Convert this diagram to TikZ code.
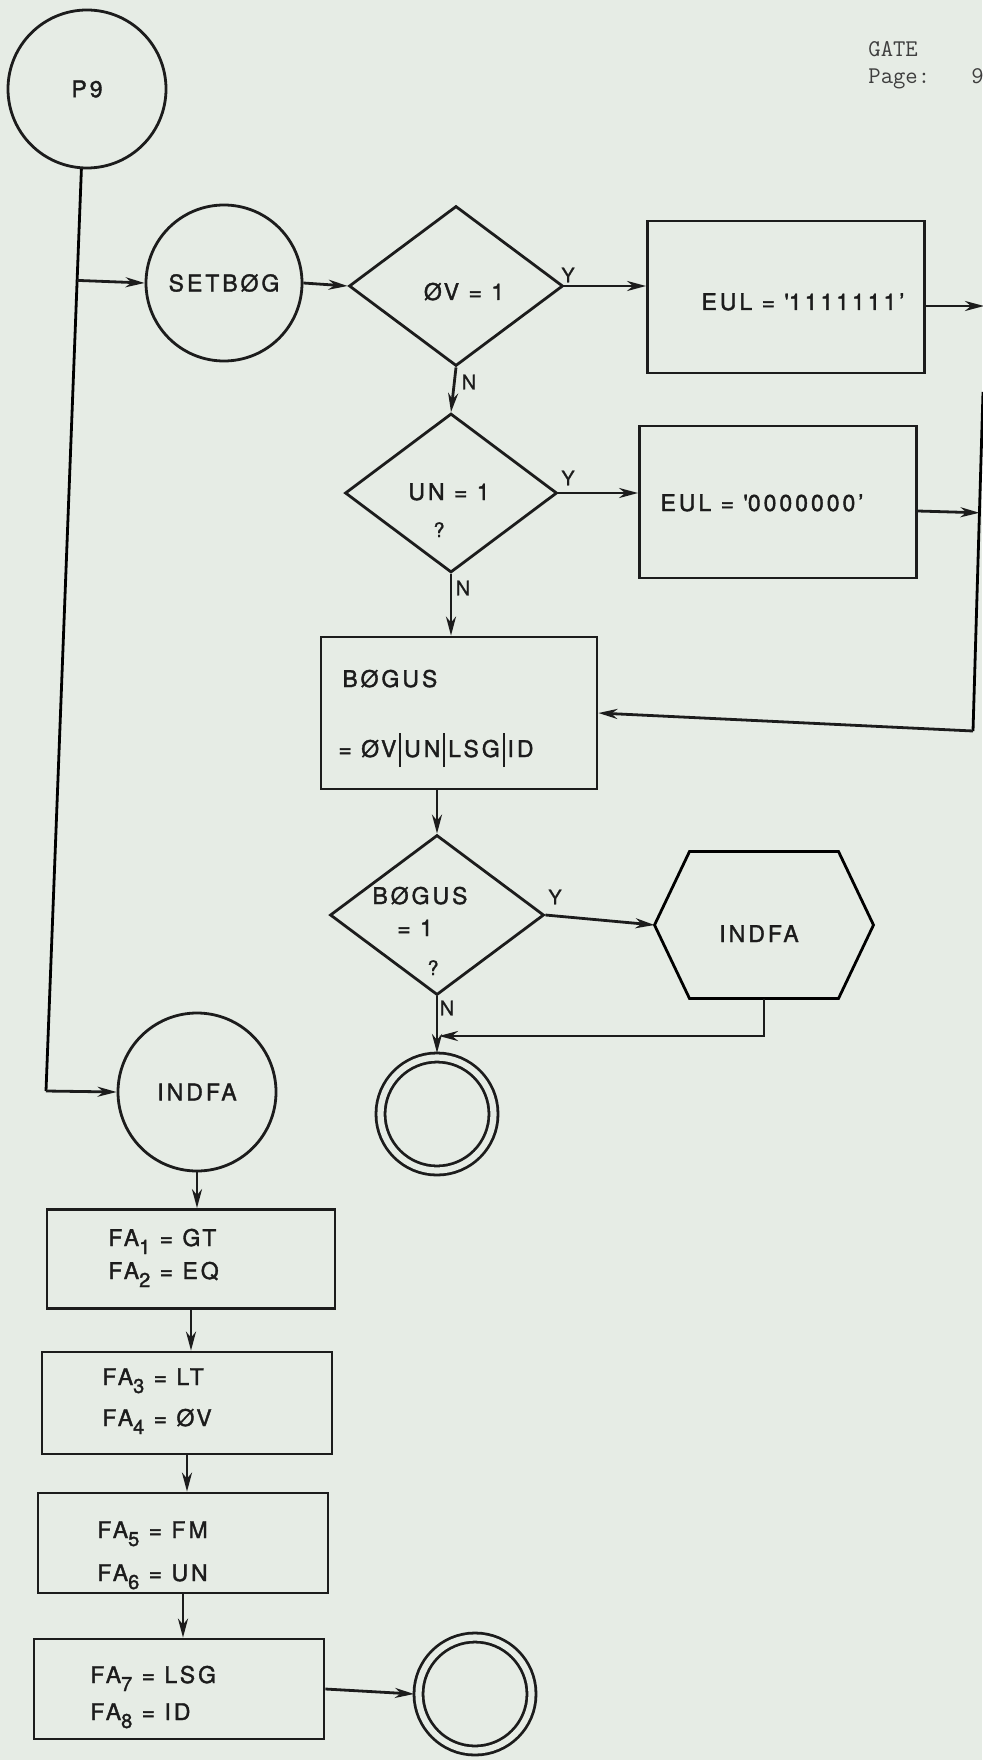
\documentclass[tikz,border=0pt]{standalone}
\usepackage{fontspec}
\setmainfont{TeX Gyre Heros}
\newfontfamily\lblfont[LetterSpace=13,FakeBold=1.6]{TeX Gyre Heros}
\newfontfamily\ynfont[FakeBold=1.0]{TeX Gyre Heros}
\usetikzlibrary{shapes.geometric,arrows.meta,calc}
\definecolor{bg}{RGB}{230,236,229}
\definecolor{ink}{RGB}{28,28,28}
\newcommand\fsub[1]{\raisebox{-8pt}{\fontsize{20}{20}\selectfont #1}}
\newcommand\vbar{\kern3pt\vrule height 24pt depth 10pt width 1.8pt\kern3pt}
\begin{document}
\begin{tikzpicture}[x=1pt,y=-1pt,line width=2.8pt,
  lbl/.style={font=\lblfont\fontsize{23}{27}\selectfont, text=ink, inner sep=0pt},
  yn/.style={font=\ynfont\fontsize{20}{22}\selectfont, text=ink, inner sep=0pt},
  circ/.style={circle, draw=ink, minimum size=#1, inner sep=0pt, lbl},
  endcirc/.style={circle, draw=ink, double=bg, double distance=6.2pt, minimum size=113pt, inner sep=0pt, outer sep=4.5pt},
  dia/.style={diamond, draw=ink, inner sep=0pt},
  box/.style={rectangle, draw=ink, inner sep=0pt},
  arr/.style={draw=ink, -{Stealth[length=19pt,width=10pt,inset=6pt]}},
  tw/.style={font=\ttfamily\fontsize{24}{26}\selectfont, text=ink!85, inner sep=0pt, anchor=base west}]
\fill[bg] (0,0) rectangle (982,1760);
\useasboundingbox (0,0) rectangle (982,1760);

% header
\node[tw] (gate) at (867,57) {GATE};
\node[tw] (page) at (867,84) {Page:\phantom{000}\,9};

% top flow
\node[circ=158pt] (p9) at (87,89) {P9};
\node[circ=156pt] (setb) at (224,283) {SETBØG};
\node[dia, minimum width=214pt, minimum height=160pt] (d1) at (456,286) {};
\node[lbl, anchor=base] (d1t) at (464,300) {ØV = 1};
\node[box, minimum width=277pt, minimum height=152pt] (b1) at (786,297) {};
\node[lbl, anchor=base] (b1t) at (803,310) {EUL = \textquotesingle1111111’};

\node[dia, minimum width=212pt, minimum height=159pt] (d2) at (451,493) {};
\node[lbl, anchor=base] (d2t) at (449,500) {UN = 1};
\node[yn, anchor=base] (d2q) at (439,537) {?};
\node[box, minimum width=277pt, minimum height=152pt] (b2) at (778,502) {};
\node[lbl, anchor=base] (b2t) at (762,511) {EUL = \textquotesingle0000000’};

\node[box, minimum width=276pt, minimum height=152pt] (b3) at (459,713) {};
\node[lbl, anchor=base west] (b3a) at (341,687) {BØGUS};
\node[lbl, anchor=base west] (b3b) at (337,757) {= ØV\vbar UN\vbar LSG\vbar ID};

\node[dia, minimum width=214pt, minimum height=160pt] (d3) at (437,915) {};
\node[lbl, anchor=base] (d3a) at (420,904) {BØGUS};
\node[lbl, anchor=base] (d3b) at (415,936) {= 1};
\node[yn, anchor=base] (d3q) at (433,975) {?};

\node[minimum width=219pt, minimum height=147pt, inner sep=0pt, outer sep=0pt] (hex) at (764,925) {};
\draw[line join=miter] (hex.west) -- ([xshift=35pt]hex.north west) -- ([xshift=-35pt]hex.north east)
  -- (hex.east) -- ([xshift=-35pt]hex.south east) -- ([xshift=35pt]hex.south west) -- cycle;
\node[lbl, anchor=base] (hext) at (759,942) {INDFA};

\node[endcirc] (dc1) at (437,1114) {};

% left column
\node[circ=158pt] (indfa) at (197,1092) {INDFA};
\node[box, minimum width=288pt, minimum height=99pt] (fa12) at (191,1259) {};
\node[lbl, anchor=base west] (fa1) at (107,1246) {FA\fsub1 = GT};
\node[lbl, anchor=base west] (fa2) at (107,1279) {FA\fsub2 = EQ};
\node[box, minimum width=290pt, minimum height=102pt] (fa34) at (187,1403) {};
\node[lbl, anchor=base west] (fa3) at (101,1385) {FA\fsub3 = LT};
\node[lbl, anchor=base west] (fa4) at (101,1426) {FA\fsub4 = ØV};
\node[box, minimum width=290pt, minimum height=100pt] (fa56) at (183,1543) {};
\node[lbl, anchor=base west] (fa5) at (96,1538) {FA\fsub5 = FM};
\node[lbl, anchor=base west] (fa6) at (96,1581) {FA\fsub6 = UN};
\node[box, minimum width=290pt, minimum height=100pt] (fa78) at (179,1689) {};
\node[lbl, anchor=base west] (fa7) at (89,1683) {FA\fsub7 = LSG};
\node[lbl, anchor=base west] (fa8) at (89,1720) {FA\fsub8 = ID};
\node[endcirc] (dc2) at (475,1694) {};

% labels
\node[yn] (y1) at (568,275) {Y};
\node[yn] (n1) at (469,382) {N};
\node[yn] (y2) at (568,478) {Y};
\node[yn] (n2) at (463,588) {N};
\node[yn] (y3) at (555,897) {Y};
\node[yn] (n3) at (447,1008) {N};

% connectors
\coordinate (bend) at (46,1091);
\draw (p9.-94) -- (bend);
\draw[arr] (bend) -- (indfa.west);
\draw[arr] ($(p9.-94)!(setb.west)!(bend)$) -- (setb.west);
\draw[arr] (setb.east) -- (d1.west);
\draw[arr] (d1.east) -- (b1.west |- d1.east);
\draw[arr] (d1.south) -- (d2.north);
\draw[arr] (d2.east) -- (b2.west |- d2.east);
\draw[arr] (d2.south) -- (d2.south |- b3.north);

\coordinate (e1) at (984,306);
\coordinate (vt) at (983,392);
\coordinate (vb) at (973,731);
\draw[arr] (b1.east |- e1) -- (e1);
\draw (vt) -- (vb);
\path (b2.east) ++(0,9) coordinate (b2o);
\draw[arr] (b2o) -- ($(vt)!(b2o)!(vb)$);
\draw[arr] (vb) -- (b3.east);

\draw[arr] (d3.north |- b3.south) -- (d3.north);
\draw[arr] (d3.east) -- (hex.west);
\coordinate (jn) at (439,1036);
\draw[arr] (hex.south) |- (jn);
\draw[arr] (d3.south) -- (dc1.north);

\draw[arr] (indfa.south) -- (indfa.south |- fa12.north);
\draw[arr] (fa12.south) -- (fa12.south |- fa34.north);
\draw[arr] (fa34.south) -- (fa34.south |- fa56.north);
\draw[arr] (fa56.south) -- (fa56.south |- fa78.north);
\draw[arr] (fa78.east) -- (dc2.west);
\end{tikzpicture}
\end{document}
